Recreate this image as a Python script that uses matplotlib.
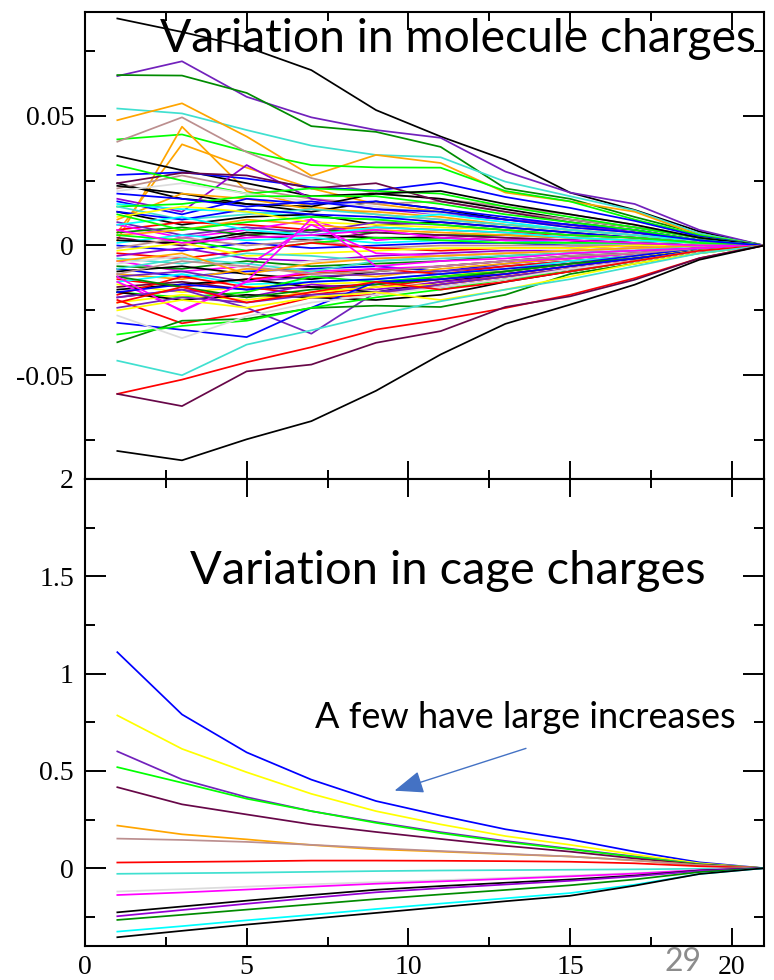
import numpy as np
import matplotlib
matplotlib.use("Agg")
import matplotlib.pyplot as plt
from matplotlib.ticker import MultipleLocator, FormatStrFormatter

# xmgrace default palette
grace = {'k': (0, 0, 0), 'r': (255, 0, 0), 'g': (0, 255, 0), 'b': (0, 0, 255),
         'y': (255, 255, 0), 'br': (188, 143, 143), 'gr': (220, 220, 220),
         'v': (148, 0, 211), 'c': (0, 255, 255), 'm': (255, 0, 255),
         'o': (255, 165, 0), 'i': (114, 33, 188), 'ma': (103, 7, 72),
         't': (64, 224, 208), 'g4': (0, 139, 0)}
grace = {k: tuple(c / 255 for c in v) for k, v in grace.items()}

steps = [1, 3, 5, 7, 9, 11, 13, 15, 17, 19, 21]

# ---- molecule charges (top) ----
mol_series = [
    [0.0875, 0.0823, 0.0765, 0.0676, 0.0522, 0.042, 0.033, 0.0204, 0.0137, 0.0054, 0],
    [0.0653, 0.071, 0.0573, 0.0494, 0.0445, 0.0415, 0.0285, 0.0204, 0.016, 0.006, 0],
    [0.0657, 0.0655, 0.0588, 0.046, 0.0438, 0.038, 0.022, 0.018, 0.011, 0.0046, 0],
    [0.0528, 0.0509, 0.0445, 0.0385, 0.0349, 0.034, 0.0246, 0.019, 0.0135, 0.0046, 0],
    [0.0483, 0.0548, 0.042, 0.0269, 0.0349, 0.0318, 0.0204, 0.017, 0.013, 0.004, 0],
    [0.0409, 0.0428, 0.0362, 0.031, 0.0301, 0.030, 0.021, 0.017, 0.010, 0.004, 0],
    [0.040, 0.0494, 0.036, 0.026, 0.020, 0.018, 0.015, 0.012, 0.008, 0.003, 0],
    [0.002, 0.0458, 0.021, 0.015, 0.012, 0.010, 0.008, 0.006, 0.004, 0.001, 0],
    [0.005, 0.039, 0.030, 0.022, 0.016, 0.013, 0.010, 0.007, 0.005, 0.002, 0],
    [0.0345, 0.029, 0.024, 0.019, 0.020, 0.018, 0.014, 0.010, 0.007, 0.003, 0],
    [0.0272, 0.0282, 0.0258, 0.0225, 0.0212, 0.0242, 0.0187, 0.0145, 0.0095, 0.0035, 0],
    [0.024, 0.018, 0.016, 0.013, 0.017, 0.014, 0.010, 0.008, 0.005, 0.002, 0],
    [0.022, 0.027, 0.022, 0.018, 0.016, 0.017, 0.013, 0.010, 0.007, 0.003, 0],
    [0.018, 0.013, 0.031, 0.018, 0.014, 0.012, 0.010, 0.008, 0.005, 0.002, 0],
    [0.024, 0.028, 0.027, 0.022, 0.024, 0.017, 0.013, 0.009, 0.006, 0.002, 0],
    [0.031, 0.025, 0.020, 0.022, 0.021, 0.020, 0.015, 0.011, 0.007, 0.003, 0],
    [0.023, 0.020, 0.016, 0.015, 0.020, 0.021, 0.016, 0.012, 0.008, 0.003, 0],
    [0.021, 0.024, 0.020, 0.017, 0.015, 0.012, 0.009, 0.006, 0.004, 0.001, 0],
    [0.010, 0.020, 0.018, 0.014, 0.013, 0.011, 0.008, 0.006, 0.004, 0.002, 0],
    [0.017, 0.012, 0.018, 0.016, 0.017, 0.014, 0.011, 0.008, 0.006, 0.002, 0],
    [0.016, 0.014, 0.013, 0.011, 0.010, 0.012, 0.009, 0.006, 0.004, 0.002, 0],
    [0.015, 0.016, 0.019, 0.019, 0.019, 0.016, 0.012, 0.009, 0.006, 0.002, 0],
    [0.013, 0.008, 0.011, 0.012, 0.008, 0.009, 0.007, 0.005, 0.003, 0.001, 0],
    [0.015, 0.010, 0.012, 0.014, 0.012, 0.010, 0.008, 0.006, 0.004, 0.001, 0],
    [0.013, 0.010, 0.014, 0.012, 0.011, 0.009, 0.007, 0.005, 0.003, 0.001, 0],
    [0.006, 0.009, 0.008, 0.006, 0.007, 0.006, 0.005, 0.004, 0.003, 0.001, 0],
    [0.008, 0.003, 0.006, 0.010, 0.002, 0.004, 0.003, 0.002, 0.001, 0.000, 0],
    [0.011, 0.015, 0.013, 0.009, 0.008, 0.007, 0.006, 0.004, 0.003, 0.001, 0],
    [0.005, 0.007, 0.004, 0.006, 0.005, 0.004, 0.004, 0.003, 0.002, 0.001, 0],
    [0.009, 0.004, 0.007, 0.005, 0.009, 0.008, 0.006, 0.004, 0.003, 0.001, 0],
    [0.004, 0.006, 0.010, 0.008, 0.006, 0.005, 0.004, 0.003, 0.002, 0.001, 0],
    [0.003, 0.000, 0.004, 0.002, 0.005, 0.004, 0.003, 0.002, 0.001, 0.000, 0],
    [0.001, 0.004, 0.002, 0.003, 0.001, 0.002, 0.002, 0.001, 0.001, 0.000, 0],
    [0.000, -0.002, 0.001, -0.001, 0.000, 0.001, 0.001, 0.000, 0.000, 0.000, 0],
    [0.002, 0.001, 0.005, 0.004, 0.003, 0.003, 0.002, 0.002, 0.001, 0.000, 0],
    [-0.001, 0.003, 0.000, 0.002, -0.001, 0.000, 0.000, 0.000, 0.000, 0.000, 0],
    [0.004, 0.002, -0.002, 0.001, 0.003, 0.002, 0.001, 0.001, 0.001, 0.000, 0],
    [-0.003, -0.005, -0.002, 0.001, -0.001, -0.002, -0.001, -0.001, 0.000, 0.000, 0],
    [-0.002, 0.001, -0.004, -0.003, -0.002, -0.001, -0.001, -0.001, 0.000, 0.000, 0],
    [-0.004, -0.001, -0.005, -0.006, -0.004, -0.003, -0.002, -0.002, -0.001, 0.000, 0],
    [-0.005, -0.007, -0.003, -0.004, -0.006, -0.004, -0.003, -0.002, -0.001, 0.000, 0],
    [-0.006, -0.010, -0.008, 0.008, -0.003, -0.004, -0.003, -0.002, -0.001, 0.000, 0],
    [-0.007, -0.004, -0.009, -0.006, -0.005, -0.004, -0.003, -0.002, -0.001, 0.000, 0],
    [-0.008, -0.009, -0.006, -0.008, -0.007, -0.006, -0.004, -0.003, -0.002, -0.001, 0],
    [-0.009, -0.012, -0.010, -0.009, -0.008, -0.010, -0.007, -0.005, -0.003, -0.001, 0],
    [-0.010, -0.008, -0.011, -0.013, -0.010, -0.008, -0.006, -0.004, -0.003, -0.001, 0],
    [-0.011, -0.013, -0.009, -0.010, -0.012, -0.009, -0.007, -0.005, -0.003, -0.001, 0],
    [-0.012, -0.010, -0.014, -0.012, -0.011, -0.010, -0.008, -0.006, -0.004, -0.001, 0],
    [-0.013, -0.016, -0.013, -0.011, -0.009, -0.011, -0.008, -0.006, -0.004, -0.001, 0],
    [-0.014, -0.011, -0.015, -0.014, -0.013, -0.011, -0.009, -0.006, -0.004, -0.001, 0],
    [-0.015, -0.018, -0.016, -0.015, -0.014, -0.012, -0.009, -0.007, -0.004, -0.002, 0],
    [-0.016, -0.014, -0.017, -0.016, -0.015, -0.012, -0.010, -0.007, -0.005, -0.002, 0],
    [-0.017, -0.015, -0.013, -0.016, -0.018, -0.014, -0.011, -0.008, -0.005, -0.002, 0],
    [-0.018, -0.020, -0.018, -0.012, -0.014, -0.012, -0.010, -0.007, -0.005, -0.002, 0],
    [-0.019, -0.012, -0.016, -0.019, -0.016, -0.013, -0.011, -0.008, -0.005, -0.002, 0],
    [-0.020, -0.017, -0.020, -0.015, -0.017, -0.014, -0.012, -0.009, -0.006, -0.002, 0],
    [-0.014, -0.025, -0.014, -0.010, -0.009, -0.008, -0.006, -0.005, -0.003, -0.001, 0],
    [-0.022, -0.019, -0.021, -0.018, -0.016, -0.015, -0.012, -0.009, -0.006, -0.002, 0],
    [-0.018, -0.021, -0.019, -0.020, -0.021, -0.019, -0.014, -0.010, -0.006, -0.002, 0],
    [-0.021, -0.030, -0.026, -0.020, -0.019, -0.015, -0.012, -0.009, -0.006, -0.002, 0],
    [-0.024, -0.020, -0.022, -0.019, -0.018, -0.016, -0.013, -0.010, -0.006, -0.002, 0],
    [-0.018, -0.015, -0.017, -0.014, -0.013, -0.011, -0.009, -0.007, -0.004, -0.001, 0],
    [-0.012, -0.016, -0.020, -0.017, -0.015, -0.013, -0.010, -0.007, -0.005, -0.002, 0],
    [-0.009, -0.005, -0.007, -0.010, -0.006, -0.005, -0.004, -0.003, -0.002, 0.000, 0],
    [-0.006, -0.003, -0.011, -0.007, -0.005, -0.004, -0.003, -0.002, -0.001, 0.000, 0],
    [-0.011, -0.006, -0.008, -0.011, -0.010, -0.008, -0.006, -0.004, -0.003, -0.001, 0],
    [0.008, 0.011, 0.006, 0.004, 0.007, 0.006, 0.005, 0.003, 0.002, 0.001, 0],
    [0.012, 0.006, 0.009, 0.011, 0.010, 0.008, 0.006, 0.004, 0.003, 0.001, 0],
    [0.006, 0.001, 0.003, 0.004, 0.006, 0.003, 0.002, 0.002, 0.001, 0.000, 0],
    [0.020, 0.018, 0.015, 0.017, 0.014, 0.013, 0.010, 0.007, 0.005, 0.002, 0],
    [-0.012, -0.0254, -0.0138, 0.0103, -0.008, -0.006, -0.005, -0.003, -0.002, -0.001, 0],
    [-0.020, -0.017, -0.024, -0.034, -0.018, -0.015, -0.012, -0.009, -0.006, -0.002, 0],
    [-0.0298, -0.0325, -0.0353, -0.024, -0.014, -0.013, -0.011, -0.008, -0.005, -0.002, 0],
    [-0.0373, -0.029, -0.0283, -0.0241, -0.0232, -0.0237, -0.019, -0.011, -0.007, -0.003, 0],
    [-0.0343, -0.031, -0.029, -0.024, -0.020, -0.017, -0.013, -0.010, -0.006, -0.002, 0],
    [-0.027, -0.0357, -0.0273, -0.022, -0.019, -0.016, -0.013, -0.009, -0.006, -0.002, 0],
    [-0.025, -0.021, -0.024, -0.020, -0.018, -0.021, -0.017, -0.012, -0.007, -0.003, 0],
    [-0.022, -0.016, -0.022, -0.018, -0.014, -0.017, -0.014, -0.010, -0.006, -0.002, 0],
    [-0.0444, -0.0500, -0.0382, -0.0327, -0.0267, -0.0215, -0.017, -0.013, -0.008, -0.003, 0],
    [-0.0572, -0.0517, -0.0450, -0.0392, -0.0324, -0.0286, -0.0241, -0.0190, -0.0126, -0.0049, 0],
    [-0.0572, -0.0619, -0.0485, -0.0459, -0.0375, -0.033, -0.0237, -0.0196, -0.0132, -0.0049, 0],
    [-0.0792, -0.0828, -0.0747, -0.0677, -0.056, -0.042, -0.0302, -0.0228, -0.0151, -0.0055, 0],
]
mol_colors = ['k', 'i', 'g4', 't', 'o', 'g', 'br', 'o', 'o', 'k', 'b',
              'k', 'br', 'v', 'ma', 'g', 'k', 'gr', 'o', 'b', 'c', 'g', 'k', 't', 'b',
              'r', 'm', 'y', 'g4', 'i', 'o', 'ma', 'c', 'b', 'k', 'br', 'g', 'r', 'y',
              'v', 't', 'm', 'gr', 'g4', 'b', 'k', 'o', 'i', 'r', 'c', 'y', 'ma', 'k',
              'g', 'r', 'v', 'm', 'y', 'k', 'r', 'i', 'b', 'g4', 't', 'o', 'br', 'c',
              'g', 'm', 'b', 'm', 'i', 'b', 'g4', 'g', 'gr', 'y', 'r', 't', 'r', 'ma', 'k']

# ---- cage charges (bottom) ----
cage_series = [
    [1.11, 0.79, 0.595, 0.455, 0.345, 0.27, 0.2, 0.148, 0.085, 0.03, 0],
    [0.785, 0.613, 0.493, 0.382, 0.293, 0.225, 0.165, 0.12, 0.07, 0.025, 0],
    [0.60, 0.456, 0.365, 0.293, 0.237, 0.185, 0.14, 0.10, 0.06, 0.02, 0],
    [0.519, 0.439, 0.357, 0.293, 0.233, 0.18, 0.135, 0.097, 0.058, 0.02, 0],
    [0.416, 0.328, 0.276, 0.225, 0.186, 0.15, 0.115, 0.085, 0.05, 0.018, 0],
    [0.219, 0.174, 0.148, 0.119, 0.097, 0.085, 0.072, 0.06, 0.04, 0.015, 0],
    [0.152, 0.145, 0.135, 0.12, 0.103, 0.088, 0.074, 0.06, 0.04, 0.015, 0],
    [0.029, 0.032, 0.035, 0.039, 0.039, 0.038, 0.036, 0.033, 0.025, 0.01, 0],
    [-0.029, -0.026, -0.023, -0.019, -0.015, -0.012, -0.01, -0.008, -0.006, -0.003, 0],
    [-0.12, -0.108, -0.095, -0.083, -0.072, -0.062, -0.05, -0.038, -0.025, -0.01, 0],
    [-0.138, -0.125, -0.11, -0.095, -0.08, -0.068, -0.055, -0.042, -0.028, -0.01, 0],
    [-0.227, -0.197, -0.167, -0.138, -0.111, -0.092, -0.075, -0.058, -0.038, -0.012, 0],
    [-0.247, -0.215, -0.183, -0.153, -0.124, -0.103, -0.084, -0.065, -0.042, -0.014, 0],
    [-0.266, -0.24, -0.213, -0.186, -0.159, -0.135, -0.112, -0.088, -0.058, -0.02, 0],
    [-0.326, -0.298, -0.268, -0.24, -0.21, -0.182, -0.155, -0.128, -0.085, -0.03, 0],
    [-0.355, -0.322, -0.29, -0.26, -0.23, -0.2, -0.17, -0.142, -0.09, -0.03, 0],
]
cage_colors = ['b', 'y', 'i', 'g', 'ma', 'o', 'br', 'r', 't', 'gr', 'm',
               'k', 'v', 'g4', 'c', 'k']

plt.rcParams['axes.unicode_minus'] = False
W, H = 774, 980
fig = plt.figure(figsize=(W / 100, H / 100), dpi=100)

def px_axes(x0, y0, x1, y1):
    return fig.add_axes([x0 / W, 1 - y1 / H, (x1 - x0) / W, (y1 - y0) / H])

ax1 = px_axes(85, 12, 764, 479)
ax2 = px_axes(85, 479, 764, 946)

for s, c in zip(mol_series, mol_colors):
    ax1.plot(steps, s, color=grace[c], lw=1.25)
for s, c in zip(cage_series, cage_colors):
    ax2.plot(steps, s, color=grace[c], lw=1.25)

ax1.set_ylim(-0.09, 0.09)
ax2.set_ylim(-0.4, 2)
serif = 'Liberation Serif'
for ax, maj, mnr in [(ax1, 0.05, 0.025), (ax2, 0.5, 0.25)]:
    ax.set_xlim(0, 21)
    ax.xaxis.set_major_locator(MultipleLocator(5))
    ax.xaxis.set_minor_locator(MultipleLocator(2.5))
    ax.yaxis.set_major_locator(MultipleLocator(maj))
    ax.yaxis.set_minor_locator(MultipleLocator(mnr))
    ax.yaxis.set_major_formatter(FormatStrFormatter('%g'))
    ax.tick_params(which='both', direction='in', top=True, right=True, width=1.4)
    ax.tick_params(axis='y', which='major', length=15, pad=8, labelsize=20)
    ax.tick_params(axis='y', which='minor', length=7.5)
    ax.tick_params(axis='x', which='major', length=13, pad=6.5, labelsize=20)
    ax.tick_params(axis='x', which='minor', length=6.5)
    for sp in ax.spines.values():
        sp.set_linewidth(1.5)
    for lab in ax.get_xticklabels() + ax.get_yticklabels():
        lab.set_fontfamily(serif)
ax1.tick_params(axis='x', labelbottom=False)
ax1.set_yticks([-0.05, 0, 0.05])

sans = ['Lato', 'DejaVu Sans']
fig.text(160 / W, 1 - 52 / H, 'Variation in molecule charges', fontsize=33.3,
         family=sans, va='baseline', ha='left')
fig.text(190 / W, 1 - 584 / H, 'Variation in cage charges', fontsize=33.8,
         family=sans, va='baseline', ha='left')
fig.text(315 / W, 1 - 728 / H, 'A few have large increases', fontsize=26,
         family=sans, va='baseline', ha='left')
fig.text(664 / W, 1 - 971 / H, '29', fontsize=23, color='#8c8c8c',
         family=sans, va='baseline', ha='left')

ax2.annotate('', xy=(9.49, 0.394), xytext=(13.72, 0.62),
             arrowprops=dict(arrowstyle='-|>,head_length=0.9,head_width=0.35',
                             color='#4472C4', lw=1.0, mutation_scale=20))

fig.savefig('out.png', dpi=100)
